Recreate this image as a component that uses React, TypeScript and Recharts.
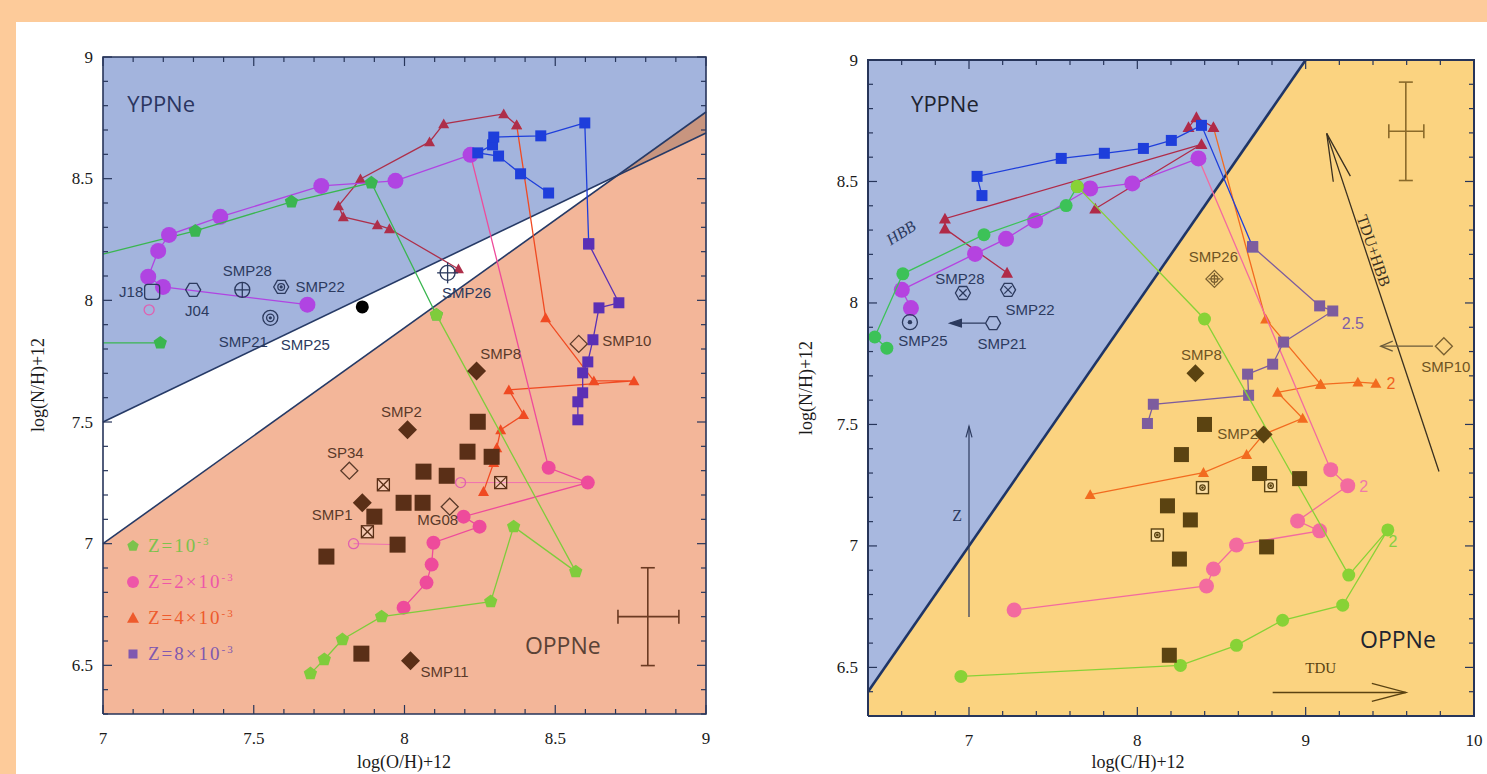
import { ScatterChart, Scatter, XAxis, YAxis } from "recharts";

type Pt = { x: number; y: number; name?: string };
type Note = { x: number; y: number; id: string; text: string };
type Box = { left: number; right: number; top: number; bottom: number };

const PEACH = "#FDCB9A";
const AXIS = "#27355A";
const NAVY = "#2C3A5E";
const SERIF = "'Liberation Serif', 'DejaVu Serif', serif";
const SANS = "'Liberation Sans', Arial, sans-serif";
const TITLE = "'Open Sans', 'Liberation Sans', sans-serif";

// ---------- left panel: log(N/H)+12 vs log(O/H)+12 ----------
const L_YOUNG_ZONE: Pt[] = [{ x: 7, y: 7.5 }, { x: 9, y: 8.688 }, { x: 9, y: 9 }, { x: 7, y: 9 }];
const L_OLD_ZONE: Pt[] = [{ x: 7, y: 6.3 }, { x: 9, y: 6.3 }, { x: 9, y: 8.774 }, { x: 7, y: 7.0 }];
const L_OVERLAP: Pt[] = [{ x: 8.706, y: 8.513 }, { x: 9, y: 8.774 }, { x: 9, y: 8.688 }];
const L_YOUNG_EDGE: Pt[] = [{ x: 7, y: 7.5 }, { x: 9, y: 8.688 }];
const L_OLD_EDGE: Pt[] = [{ x: 7, y: 7.0 }, { x: 9, y: 8.774 }];

const L_GREEN_LEAD: Pt[] = [{ x: 7.0, y: 8.19 }, { x: 7.306, y: 8.285 }];
const L_GREEN_UP: Pt[] = [{ x: 7.306, y: 8.285 }, { x: 7.625, y: 8.405 }, { x: 7.89, y: 8.483 }, { x: 8.106, y: 7.94 }];
const L_GREEN_LOW: Pt[] = [
  { x: 8.106, y: 7.94 }, { x: 8.568, y: 6.885 }, { x: 8.362, y: 7.07 }, { x: 8.286, y: 6.762 },
  { x: 7.924, y: 6.7 }, { x: 7.794, y: 6.606 }, { x: 7.734, y: 6.524 }, { x: 7.688, y: 6.466 },
];
const L_GREEN_SHORT_LEAD: Pt[] = [{ x: 7.0, y: 7.825 }, { x: 7.19, y: 7.825 }];
const L_GREEN_SHORT: Pt[] = [{ x: 7.19, y: 7.825 }];
const L_VIOLET: Pt[] = [
  { x: 7.678, y: 7.982 }, { x: 7.199, y: 8.055 }, { x: 7.15, y: 8.097 }, { x: 7.183, y: 8.203 },
  { x: 7.219, y: 8.269 }, { x: 7.389, y: 8.343 }, { x: 7.724, y: 8.47 }, { x: 7.97, y: 8.491 }, { x: 8.219, y: 8.598 },
];
const L_PINK: Pt[] = [
  { x: 8.219, y: 8.598 }, { x: 8.478, y: 7.312 }, { x: 8.608, y: 7.251 }, { x: 8.196, y: 7.111 },
  { x: 8.249, y: 7.07 }, { x: 8.096, y: 7.004 }, { x: 8.09, y: 6.914 }, { x: 8.073, y: 6.84 }, { x: 7.997, y: 6.737 },
];
const L_DARKRED: Pt[] = [
  { x: 8.179, y: 8.129 }, { x: 7.95, y: 8.294 }, { x: 7.91, y: 8.31 }, { x: 7.797, y: 8.343 }, { x: 7.781, y: 8.388 },
  { x: 7.854, y: 8.499 }, { x: 8.083, y: 8.651 }, { x: 8.13, y: 8.725 }, { x: 8.329, y: 8.766 }, { x: 8.372, y: 8.721 },
];
const L_ORANGE: Pt[] = [
  { x: 8.372, y: 8.721 }, { x: 8.468, y: 7.928 }, { x: 8.628, y: 7.669 }, { x: 8.761, y: 7.669 }, { x: 8.346, y: 7.632 },
  { x: 8.395, y: 7.53 }, { x: 8.319, y: 7.468 }, { x: 8.306, y: 7.394 }, { x: 8.296, y: 7.333 }, { x: 8.262, y: 7.214 },
];
const L_BLUE: Pt[] = [
  { x: 8.478, y: 8.441 }, { x: 8.385, y: 8.52 }, { x: 8.312, y: 8.593 }, { x: 8.243, y: 8.606 }, { x: 8.292, y: 8.639 },
  { x: 8.296, y: 8.671 }, { x: 8.452, y: 8.676 }, { x: 8.598, y: 8.729 }, { x: 8.611, y: 8.232 },
];
const L_PURPLE: Pt[] = [
  { x: 8.611, y: 8.232 }, { x: 8.711, y: 7.99 }, { x: 8.645, y: 7.969 }, { x: 8.625, y: 7.838 }, { x: 8.608, y: 7.747 },
  { x: 8.591, y: 7.702 }, { x: 8.591, y: 7.62 }, { x: 8.575, y: 7.583 }, { x: 8.575, y: 7.509 },
];

const L_BROWN_SQUARES: Pt[] = [
  { x: 8.243, y: 7.501 }, { x: 8.209, y: 7.378 }, { x: 8.289, y: 7.357 }, { x: 8.063, y: 7.296 }, { x: 8.14, y: 7.279 },
  { x: 7.997, y: 7.168 }, { x: 8.06, y: 7.168 }, { x: 7.9, y: 7.111 }, { x: 7.977, y: 6.996 }, { x: 7.741, y: 6.947 },
  { x: 7.857, y: 6.548 },
];
const L_DIAMONDS: Pt[] = [
  { x: 8.239, y: 7.71, name: "SMP8" }, { x: 8.01, y: 7.468, name: "SMP2" },
  { x: 7.86, y: 7.168, name: "SMP1" }, { x: 8.02, y: 6.519, name: "SMP11" },
];
const L_OPEN_DIAMONDS: Pt[] = [
  { x: 7.817, y: 7.3, name: "SP34" }, { x: 8.15, y: 7.152, name: "MG08" }, { x: 8.578, y: 7.821, name: "SMP10" },
];
const L_CROSSED: Pt[] = [{ x: 7.93, y: 7.242 }, { x: 7.877, y: 7.049 }, { x: 8.319, y: 7.251 }];
const L_YOUNG_PNE: Pt[] = [
  { x: 7.163, y: 8.035, name: "J18" }, { x: 7.299, y: 8.043, name: "J04" }, { x: 7.462, y: 8.043, name: "SMP28" },
  { x: 7.591, y: 8.055, name: "SMP22" }, { x: 7.555, y: 7.928, name: "SMP21" }, { x: 8.143, y: 8.113, name: "SMP26" },
];
const L_BLACK: Pt[] = [{ x: 7.86, y: 7.973 }];
const L_OPEN_CIRCLES: Pt[] = [{ x: 8.186, y: 7.251 }, { x: 7.831, y: 7.0 }, { x: 7.153, y: 7.961 }];
const L_LINK_A: Pt[] = [{ x: 8.186, y: 7.251 }, { x: 8.608, y: 7.251 }];
const L_LINK_B: Pt[] = [{ x: 7.831, y: 7.0 }, { x: 7.977, y: 6.996 }];
const L_ERR_V: Pt[] = [{ x: 8.807, y: 6.901 }, { x: 8.807, y: 6.499 }];
const L_ERR_H: Pt[] = [{ x: 8.708, y: 6.7 }, { x: 8.91, y: 6.7 }];
const L_NOTES: Note[] = [
  { id: "young", x: 7.193, y: 8.811, text: "YPPNe" },
  { id: "old", x: 8.525, y: 6.585, text: "OPPNe" },
  { id: "smp25", x: 7.671, y: 7.817, text: "SMP25" },
];

// ---------- right panel: log(N/H)+12 vs log(C/H)+12 ----------
const R_YOUNG_ZONE: Pt[] = [{ x: 6.4, y: 6.4 }, { x: 9, y: 9 }, { x: 6.4, y: 9 }];
const R_OLD_ZONE: Pt[] = [{ x: 6.4, y: 6.3 }, { x: 10, y: 6.3 }, { x: 10, y: 9 }, { x: 9, y: 9 }, { x: 6.4, y: 6.4 }];
const R_EDGE: Pt[] = [{ x: 6.4, y: 6.4 }, { x: 9, y: 9 }];

const R_GREEN_UP: Pt[] = [
  { x: 6.512, y: 7.814 }, { x: 6.44, y: 7.86 }, { x: 6.607, y: 8.12 }, { x: 7.089, y: 8.281 },
  { x: 7.577, y: 8.401 }, { x: 7.643, y: 8.479 },
];
const R_GREEN_LOW: Pt[] = [
  { x: 7.643, y: 8.479 }, { x: 8.399, y: 7.934 }, { x: 9.256, y: 6.88 }, { x: 9.488, y: 7.066 }, { x: 9.22, y: 6.756 },
  { x: 8.863, y: 6.694 }, { x: 8.589, y: 6.591 }, { x: 8.256, y: 6.508 }, { x: 6.952, y: 6.463 },
];
const R_VIOLET: Pt[] = [
  { x: 6.655, y: 7.979 }, { x: 6.601, y: 8.054 }, { x: 7.036, y: 8.202 }, { x: 7.22, y: 8.264 },
  { x: 7.393, y: 8.339 }, { x: 7.72, y: 8.471 }, { x: 7.97, y: 8.492 }, { x: 8.363, y: 8.595 },
];
const R_PINK: Pt[] = [
  { x: 8.363, y: 8.595 }, { x: 9.149, y: 7.314 }, { x: 9.25, y: 7.248 }, { x: 8.952, y: 7.103 }, { x: 9.083, y: 7.062 },
  { x: 8.589, y: 7.004 }, { x: 8.452, y: 6.905 }, { x: 8.411, y: 6.835 }, { x: 7.268, y: 6.736 },
];
const R_DARKRED_A: Pt[] = [
  { x: 7.226, y: 8.124 }, { x: 6.857, y: 8.306 }, { x: 6.857, y: 8.347 }, { x: 8.381, y: 8.653 }, { x: 7.75, y: 8.388 },
];
const R_DARKRED_B: Pt[] = [{ x: 8.304, y: 8.723 }, { x: 8.351, y: 8.764 }, { x: 8.452, y: 8.723 }];
const R_ORANGE_A: Pt[] = [
  { x: 8.452, y: 8.723 }, { x: 8.762, y: 7.934 }, { x: 9.089, y: 7.665 }, { x: 9.31, y: 7.674 }, { x: 9.417, y: 7.669 },
];
const R_ORANGE_B: Pt[] = [
  { x: 7.72, y: 7.211 }, { x: 8.393, y: 7.302 }, { x: 8.649, y: 7.376 }, { x: 8.75, y: 7.459 },
  { x: 8.982, y: 7.525 }, { x: 8.833, y: 7.632 }, { x: 9.089, y: 7.665 },
];
const R_BLUE: Pt[] = [
  { x: 7.077, y: 8.442 }, { x: 7.048, y: 8.521 }, { x: 7.548, y: 8.595 }, { x: 7.804, y: 8.616 },
  { x: 8.036, y: 8.636 }, { x: 8.202, y: 8.669 }, { x: 8.381, y: 8.731 }, { x: 8.685, y: 8.231 },
];
const R_PURPLE: Pt[] = [
  { x: 8.685, y: 8.231 }, { x: 9.083, y: 7.988 }, { x: 9.161, y: 7.967 }, { x: 8.869, y: 7.839 }, { x: 8.804, y: 7.748 },
  { x: 8.655, y: 7.707 }, { x: 8.661, y: 7.62 }, { x: 8.095, y: 7.583 }, { x: 8.06, y: 7.504 },
];
const R_BROWN_SQUARES: Pt[] = [
  { x: 8.399, y: 7.5 }, { x: 8.262, y: 7.376 }, { x: 8.726, y: 7.298 }, { x: 8.964, y: 7.277 }, { x: 8.179, y: 7.165 },
  { x: 8.315, y: 7.107 }, { x: 8.768, y: 6.996 }, { x: 8.25, y: 6.946 }, { x: 8.19, y: 6.55 },
];
const R_DIAMONDS: Pt[] = [{ x: 8.345, y: 7.711, name: "SMP8" }, { x: 8.75, y: 7.459, name: "SMP2" }];
const R_DOTTED: Pt[] = [{ x: 8.387, y: 7.24 }, { x: 8.792, y: 7.248 }, { x: 8.119, y: 7.045 }];
const R_OPEN_DIAMONDS: Pt[] = [{ x: 9.821, y: 7.822, name: "SMP10" }, { x: 8.458, y: 8.099, name: "SMP26" }];
const R_YOUNG_PNE: Pt[] = [
  { x: 6.964, y: 8.041, name: "SMP28" }, { x: 7.232, y: 8.054, name: "SMP22" },
  { x: 6.649, y: 7.921, name: "SMP25" }, { x: 7.143, y: 7.917, name: "SMP21" },
];
const R_Z_ARROW: Pt[] = [{ x: 7.0, y: 6.707 }, { x: 7.0, y: 7.492 }];
const R_TDU_ARROW: Pt[] = [{ x: 8.804, y: 6.397 }, { x: 9.595, y: 6.397 }];
const R_TDUHBB_ARROW: Pt[] = [{ x: 9.792, y: 7.306 }, { x: 9.125, y: 8.698 }];
const R_SMP21_ARROW: Pt[] = [{ x: 7.095, y: 7.917 }, { x: 6.887, y: 7.917 }];
const R_SMP10_ARROW: Pt[] = [{ x: 9.756, y: 7.822 }, { x: 9.446, y: 7.822 }];
const R_ERR_V: Pt[] = [{ x: 9.595, y: 8.909 }, { x: 9.595, y: 8.504 }];
const R_ERR_H: Pt[] = [{ x: 9.494, y: 8.707 }, { x: 9.702, y: 8.707 }];
const R_NOTES: Note[] = [
  { id: "young", x: 6.857, y: 8.822, text: "YPPNe" },
  { id: "old", x: 9.548, y: 6.616, text: "OPPNe" },
  { id: "hbb", x: 6.595, y: 8.289, text: "HBB" },
  { id: "z", x: 6.929, y: 7.124, text: "Z" },
  { id: "tdu", x: 9.089, y: 6.496, text: "TDU" },
  { id: "tduhbb", x: 9.405, y: 8.215, text: "TDU+HBB" },
  { id: "m25", x: 9.28, y: 7.917, text: "2.5" },
  { id: "m2o", x: 9.506, y: 7.669, text: "2" },
  { id: "m2p", x: 9.345, y: 7.244, text: "2" },
  { id: "m2g", x: 9.518, y: 7.017, text: "2" },
];

const LEGEND_ITEMS = [
  { z: "10", color: "#7CC24C", kind: "pentagon" },
  { z: "2×10", color: "#EE56A8", kind: "circle" },
  { z: "4×10", color: "#EE5A2C", kind: "triangle" },
  { z: "8×10", color: "#8058B0", kind: "square" },
];

// ticks
const steps = (a: number, b: number, d: number) => {
  const out: number[] = [];
  const n = Math.round((b - a) / d);
  for (let i = 0; i <= n; i++) out.push(Math.round((a + i * d) * 1000) / 1000);
  return out;
};
const isHalf = (v: number) => Math.abs(v * 2 - Math.round(v * 2)) < 1e-6;
const isWhole = (v: number) => Math.abs(v - Math.round(v)) < 1e-6;

const LEFT_LABELS: Record<string, [number, number]> = {
  J18: [-21, 0], J04: [4, 21], SMP28: [5, -19], SMP22: [39, 0], SMP21: [-27, 24], SMP26: [19, 20],
  SMP8: [24, -17], SMP2: [-6, -18], SP34: [-4, -18], SMP1: [-30, 12], MG08: [-12, 13], SMP11: [34, 11], SMP10: [48, -3],
};
const RIGHT_LABELS: Record<string, [number, number]> = {
  SMP28: [-3, -15], SMP22: [22, 20], SMP25: [13, 18], SMP21: [9, 20], SMP26: [-1, -22],
  SMP8: [6, -19], SMP2: [-26, -1], SMP10: [2, 20],
};
const LEFT_SYMBOLS: Record<string, string> = {
  J18: "osquare", J04: "hex", SMP28: "circbar", SMP22: "hexdot", SMP21: "circc", SMP26: "circplus",
};
const RIGHT_SYMBOLS: Record<string, string> = {
  SMP28: "hexx", SMP22: "hexx", SMP25: "circdot", SMP21: "hex", SMP10: "odiamond", SMP26: "diamondplus",
};

type NoteStyle = { size: number; color: string; font: string; rotate?: number; italic?: boolean };
const LEFT_NOTE_STYLE: Record<string, NoteStyle> = {
  young: { size: 22, color: "#2A3560", font: TITLE },
  old: { size: 23, color: "#5A4236", font: TITLE },
  smp25: { size: 15, color: NAVY, font: SANS },
};
const RIGHT_NOTE_STYLE: Record<string, NoteStyle> = {
  young: { size: 22, color: "#1E2430", font: TITLE },
  old: { size: 23, color: "#1E2430", font: TITLE },
  hbb: { size: 16, color: NAVY, font: SERIF, rotate: -33, italic: true },
  z: { size: 16, color: NAVY, font: SERIF },
  tdu: { size: 15, color: "#5A4212", font: SERIF },
  tduhbb: { size: 16, color: "#3A3020", font: SERIF, rotate: 71 },
  m25: { size: 16, color: "#7E5EA8", font: SANS },
  m2o: { size: 16, color: "#F0621E", font: SANS },
  m2p: { size: 16, color: "#F07AA8", font: SANS },
  m2g: { size: 16, color: "#86CF40", font: SANS },
};

// ---------- drawing helpers ----------
const ngon = (cx: number, cy: number, r: number, n: number, start: number) =>
  Array.from({ length: n }, (_, k) => {
    const a = ((start + (360 / n) * k) * Math.PI) / 180;
    return `${cx + r * Math.cos(a)},${cy + r * Math.sin(a)}`;
  }).join(" ");

function mark(kind: string, cx: number, cy: number, s: number, c: string) {
  const open = { fill: "none", stroke: c, strokeWidth: 1.3 };
  switch (kind) {
    case "circle":
    case "dot":
      return <circle cx={cx} cy={cy} r={s} fill={c} />;
    case "square":
      return <rect x={cx - s} y={cy - s} width={2 * s} height={2 * s} fill={c} />;
    case "triangle":
      return <polygon points={`${cx},${cy - s} ${cx + s},${cy + s * 0.8} ${cx - s},${cy + s * 0.8}`} fill={c} />;
    case "pentagon":
      return <polygon points={ngon(cx, cy, s, 5, -90)} fill={c} />;
    case "diamond":
      return <polygon points={ngon(cx, cy, s, 4, -90)} fill={c} />;
    case "odiamond":
      return <polygon points={ngon(cx, cy, s, 4, -90)} {...open} />;
    case "ocircle":
      return <circle cx={cx} cy={cy} r={s} {...open} />;
    case "osquare":
      return <rect x={cx - s} y={cy - s} width={2 * s} height={2 * s} rx={3} {...open} />;
    case "hex":
      return <polygon points={ngon(cx, cy, s, 6, 0)} {...open} />;
    case "hexdot":
      return (
        <g>
          <polygon points={ngon(cx, cy, s, 6, 0)} {...open} />
          <circle cx={cx} cy={cy} r={s * 0.45} {...open} />
          <circle cx={cx} cy={cy} r={1.6} fill={c} />
        </g>
      );
    case "hexx":
      return (
        <g>
          <polygon points={ngon(cx, cy, s, 6, 0)} {...open} />
          <line x1={cx - s * 0.5} y1={cy - s * 0.5} x2={cx + s * 0.5} y2={cy + s * 0.5} {...open} />
          <line x1={cx - s * 0.5} y1={cy + s * 0.5} x2={cx + s * 0.5} y2={cy - s * 0.5} {...open} />
        </g>
      );
    case "xsquare":
      return (
        <g>
          <rect x={cx - s} y={cy - s} width={2 * s} height={2 * s} fill="rgba(255,255,255,0.25)" stroke={c} strokeWidth={1.3} />
          <line x1={cx - s} y1={cy - s} x2={cx + s} y2={cy + s} {...open} />
          <line x1={cx - s} y1={cy + s} x2={cx + s} y2={cy - s} {...open} />
        </g>
      );
    case "dsquare":
      return (
        <g>
          <rect x={cx - s} y={cy - s} width={2 * s} height={2 * s} fill="rgba(255,255,255,0.3)" stroke={c} strokeWidth={1.4} />
          <circle cx={cx} cy={cy} r={s * 0.45} {...open} />
          <circle cx={cx} cy={cy} r={1.4} fill={c} />
        </g>
      );
    case "circplus":
      return (
        <g>
          <circle cx={cx} cy={cy} r={s} {...open} />
          <line x1={cx - s * 1.4} y1={cy} x2={cx + s * 1.4} y2={cy} {...open} />
          <line x1={cx} y1={cy - s * 1.4} x2={cx} y2={cy + s * 1.4} {...open} />
        </g>
      );
    case "circbar":
      return (
        <g>
          <circle cx={cx} cy={cy} r={s} {...open} />
          <line x1={cx - s} y1={cy} x2={cx + s} y2={cy} {...open} />
          <line x1={cx} y1={cy - s} x2={cx} y2={cy + s} {...open} />
        </g>
      );
    case "circc":
      return (
        <g>
          <circle cx={cx} cy={cy} r={s} {...open} />
          <circle cx={cx} cy={cy} r={s * 0.5} {...open} />
          <circle cx={cx} cy={cy} r={1.6} fill={c} />
        </g>
      );
    case "circdot":
      return (
        <g>
          <circle cx={cx} cy={cy} r={s} {...open} />
          <circle cx={cx} cy={cy} r={2.2} fill={c} />
        </g>
      );
    case "diamondplus":
      return (
        <g>
          <polygon points={ngon(cx, cy, s, 4, -90)} {...open} />
          <circle cx={cx} cy={cy} r={s * 0.4} {...open} />
          <line x1={cx - s * 0.7} y1={cy} x2={cx + s * 0.7} y2={cy} {...open} />
          <line x1={cx} y1={cy - s * 0.7} x2={cx} y2={cy + s * 0.7} {...open} />
        </g>
      );
    default:
      return <g />;
  }
}

const hidden = () => <g />;

function zone(key: string, data: Pt[], fill: string) {
  return <Scatter key={key} data={data} line={{ fill, stroke: "none" }} shape={hidden} isAnimationActive={false} />;
}

function edge(key: string, data: Pt[], stroke: string, width: number) {
  return (
    <Scatter key={key} data={data} line={{ stroke, strokeWidth: width, fill: "none" }} shape={hidden} isAnimationActive={false} />
  );
}

function track(key: string, data: Pt[], color: string, kind: string, size: number) {
  return (
    <Scatter
      key={key}
      data={data}
      fill={color}
      line={{ stroke: color, strokeWidth: 1.3, fill: "none" }}
      lineJointType="linear"
      shape={(p: any) => mark(kind, p.cx, p.cy, size, color)}
      isAnimationActive={false}
    />
  );
}

function marks(
  key: string,
  data: Pt[],
  kind: string | Record<string, string>,
  size: number,
  color: string,
  labels?: Record<string, [number, number]>,
  labelColor?: string
) {
  const shape = (p: any) => {
    const name: string | undefined = p.payload?.name;
    const k = typeof kind === "string" ? kind : kind[name || ""];
    const pos = labels && name ? labels[name] : undefined;
    return (
      <g>
        {mark(k, p.cx, p.cy, size, color)}
        {pos && (
          <text
            x={p.cx + pos[0]}
            y={p.cy + pos[1]}
            textAnchor="middle"
            dominantBaseline="central"
            fontFamily={SANS}
            fontSize={15}
            fill={labelColor}
          >
            {name}
          </text>
        )}
      </g>
    );
  };
  return <Scatter key={key} data={data} shape={shape} isAnimationActive={false} />;
}

function notes(key: string, data: Note[], styles: Record<string, NoteStyle>) {
  const shape = (p: any) => {
    const st = styles[p.payload.id];
    return (
      <text
        x={p.cx}
        y={p.cy}
        textAnchor="middle"
        dominantBaseline="central"
        fontFamily={st.font}
        fontSize={st.size}
        fill={st.color}
        fontStyle={st.italic ? "italic" : undefined}
        transform={st.rotate ? `rotate(${st.rotate} ${p.cx} ${p.cy})` : undefined}
      >
        {p.payload.text}
      </text>
    );
  };
  return <Scatter key={key} data={data} shape={shape} isAnimationActive={false} />;
}

function arrow(key: string, data: Pt[], color: string, head: number, half: number, width: number, filled = false) {
  const draw = (lp: any) => {
    const pts = lp.points as { x: number; y: number }[];
    const a = pts[0];
    const b = pts[pts.length - 1];
    const ang = Math.atan2(b.y - a.y, b.x - a.x);
    const bx = b.x - head * Math.cos(ang);
    const by = b.y - head * Math.sin(ang);
    const w1 = `${bx + half * Math.sin(ang)},${by - half * Math.cos(ang)}`;
    const w2 = `${bx - half * Math.sin(ang)},${by + half * Math.cos(ang)}`;
    return (
      <g>
        <line x1={a.x} y1={a.y} x2={b.x} y2={b.y} stroke={color} strokeWidth={width} />
        <polyline
          points={`${w1} ${b.x},${b.y} ${w2}`}
          fill={filled ? color : "none"}
          stroke={color}
          strokeWidth={width}
        />
      </g>
    );
  };
  return <Scatter key={key} data={data} line={draw} shape={hidden} isAnimationActive={false} />;
}

function errBar(key: string, data: Pt[], color: string, cap: number) {
  const draw = (lp: any) => {
    const [a, b] = lp.points as { x: number; y: number }[];
    const ang = Math.atan2(b.y - a.y, b.x - a.x);
    const px = cap * Math.sin(ang);
    const py = -cap * Math.cos(ang);
    return (
      <g stroke={color} strokeWidth={1.6}>
        <line x1={a.x} y1={a.y} x2={b.x} y2={b.y} />
        <line x1={a.x - px} y1={a.y - py} x2={a.x + px} y2={a.y + py} />
        <line x1={b.x - px} y1={b.y - py} x2={b.x + px} y2={b.y + py} />
      </g>
    );
  };
  return <Scatter key={key} data={data} line={draw} shape={hidden} isAnimationActive={false} />;
}

function xTick(box: Box, major: (v: number) => boolean) {
  return (props: any) => {
    const { x, payload } = props;
    const v = payload.value as number;
    const big = major(v);
    const len = big ? 9 : 5;
    return (
      <g>
        <line x1={x} x2={x} y1={box.bottom} y2={box.bottom - len} stroke={AXIS} strokeWidth={1.2} />
        <line x1={x} x2={x} y1={box.top} y2={box.top + len} stroke={AXIS} strokeWidth={1.2} />
        {big && (
          <text x={x} y={box.bottom + 24} textAnchor="middle" dominantBaseline="central" fontFamily={SERIF} fontSize={17} fill="#1a1a1a">
            {String(v)}
          </text>
        )}
      </g>
    );
  };
}

function yTick(box: Box, major: (v: number) => boolean) {
  return (props: any) => {
    const { y, payload } = props;
    const v = payload.value as number;
    const big = major(v);
    const len = big ? 9 : 5;
    return (
      <g>
        <line x1={box.left} x2={box.left + len} y1={y} y2={y} stroke={AXIS} strokeWidth={1.2} />
        <line x1={box.right} x2={box.right - len} y1={y} y2={y} stroke={AXIS} strokeWidth={1.2} />
        {big && (
          <text x={box.left - 10} y={y} textAnchor="end" dominantBaseline="central" fontFamily={SERIF} fontSize={17} fill="#1a1a1a">
            {String(v)}
          </text>
        )}
      </g>
    );
  };
}

function frame(key: string, x0: number, x1: number, y0: number, y1: number, width: number) {
  const pts: Pt[] = [
    { x: x0, y: y0 }, { x: x1, y: y0 }, { x: x1, y: y1 }, { x: x0, y: y1 }, { x: x0, y: y0 },
  ];
  return edge(key, pts, AXIS, width);
}

const LEFT_BOX: Box = { left: 103, right: 706, top: 57, bottom: 714 };
const RIGHT_BOX: Box = { left: 108, right: 714, top: 60, bottom: 716 };

const axisTitle = (x: number, y: number, text: string, rotate = false) => () => (
  <text
    x={x}
    y={y}
    transform={rotate ? `rotate(-90 ${x} ${y})` : undefined}
    textAnchor="middle"
    dominantBaseline="central"
    fontFamily={SERIF}
    fontSize={18}
    fill="#1a1a1a"
  >
    {text}
  </text>
);

function LeftPanel() {
  return (
    <ScatterChart width={740} height={774} margin={{ top: 57, right: 34, bottom: 0, left: 53 }}>
      <XAxis
        type="number"
        dataKey="x"
        domain={[7, 9]}
        ticks={steps(7, 9, 0.1)}
        interval={0}
        height={60}
        axisLine={false}
        tickLine={false}
        tickSize={0}
        tick={xTick(LEFT_BOX, isHalf)}
        label={{ content: axisTitle(404, 762, "log(O/H)+12") }}
      />
      <YAxis
        type="number"
        dataKey="y"
        domain={[6.3, 9]}
        ticks={steps(6.3, 9, 0.1)}
        interval={0}
        width={50}
        axisLine={false}
        tickLine={false}
        tickSize={0}
        tick={yTick(LEFT_BOX, isHalf)}
        label={{ content: axisTitle(38, 385, "log(N/H)+12", true) }}
      />
      {zone("lz-young", L_YOUNG_ZONE, "#A3B4DD")}
      {zone("lz-old", L_OLD_ZONE, "#F3B699")}
      {zone("lz-overlap", L_OVERLAP, "#C8957F")}
      {edge("le-young", L_YOUNG_EDGE, "#263A66", 1.6)}
      {edge("le-old", L_OLD_EDGE, "#263A66", 1.6)}
      {edge("l-green-lead", L_GREEN_LEAD, "#3AB650", 1.3)}
      {edge("l-green-short-lead", L_GREEN_SHORT_LEAD, "#3AB650", 1.3)}
      {edge("l-link-a", L_LINK_A, "#F070B0", 1)}
      {edge("l-link-b", L_LINK_B, "#F070B0", 1)}
      {track("l-orange", L_ORANGE, "#F04A22", "triangle", 5.5)}
      {track("l-darkred", L_DARKRED, "#AE2F4A", "triangle", 5.5)}
      {track("l-pink", L_PINK, "#EE4B9B", "circle", 7)}
      {track("l-violet", L_VIOLET, "#B044E2", "circle", 8)}
      {track("l-blue", L_BLUE, "#1E3EDB", "square", 5.5)}
      {track("l-purple", L_PURPLE, "#5A30B5", "square", 5.5)}
      {track("l-green-up", L_GREEN_UP, "#3AB650", "pentagon", 7)}
      {track("l-green-short", L_GREEN_SHORT, "#3AB650", "pentagon", 7)}
      {track("l-green-low", L_GREEN_LOW, "#7FCC3C", "pentagon", 7)}
      {marks("l-open-circ", L_OPEN_CIRCLES, "ocircle", 5, "#E060B0")}
      {marks("l-squares", L_BROWN_SQUARES, "square", 8, "#5A2F17")}
      {marks("l-crossed", L_CROSSED, "xsquare", 6, "#5A2F17")}
      {marks("l-diamonds", L_DIAMONDS, "diamond", 9.5, "#5A2F17", LEFT_LABELS, "#5A3A2A")}
      {marks("l-odiamonds", L_OPEN_DIAMONDS, "odiamond", 8.5, "#5A3A2A", LEFT_LABELS, "#5A3A2A")}
      {marks("l-young", L_YOUNG_PNE, LEFT_SYMBOLS, 7.5, NAVY, LEFT_LABELS, NAVY)}
      {marks("l-black", L_BLACK, "dot", 6.5, "#000")}
      {notes("l-notes", L_NOTES, LEFT_NOTE_STYLE)}
      {errBar("l-err-v", L_ERR_V, "#6B3A22", 7)}
      {errBar("l-err-h", L_ERR_H, "#6B3A22", 7)}
      {frame("l-frame", 7, 9, 6.3, 9, 1.6)}
    </ScatterChart>
  );
}

function RightPanel() {
  return (
    <ScatterChart width={727} height={774} margin={{ top: 60, right: 13, bottom: 0, left: 58 }}>
      <XAxis
        type="number"
        dataKey="x"
        domain={[6.4, 10]}
        ticks={steps(6.4, 10, 0.2)}
        interval={0}
        height={58}
        axisLine={false}
        tickLine={false}
        tickSize={0}
        tick={xTick(RIGHT_BOX, isWhole)}
        label={{ content: axisTitle(378, 762, "log(C/H)+12") }}
      />
      <YAxis
        type="number"
        dataKey="y"
        domain={[6.3, 9]}
        ticks={steps(6.3, 9, 0.1)}
        interval={0}
        width={50}
        axisLine={false}
        tickLine={false}
        tickSize={0}
        tick={yTick(RIGHT_BOX, isHalf)}
        label={{ content: axisTitle(46, 388, "log(N/H)+12", true) }}
      />
      {zone("rz-old", R_OLD_ZONE, "#FBD380")}
      {zone("rz-young", R_YOUNG_ZONE, "#A8B8DF")}
      {edge("re", R_EDGE, "#1F3566", 2.6)}
      {track("r-orange-a", R_ORANGE_A, "#F26B1F", "triangle", 5.5)}
      {track("r-orange-b", R_ORANGE_B, "#F26B1F", "triangle", 5.5)}
      {track("r-darkred-a", R_DARKRED_A, "#B02A48", "triangle", 6)}
      {track("r-darkred-b", R_DARKRED_B, "#B02A48", "triangle", 6)}
      {track("r-pink", R_PINK, "#F36B9F", "circle", 7.5)}
      {track("r-violet", R_VIOLET, "#B543E0", "circle", 8)}
      {track("r-blue", R_BLUE, "#1E3EDB", "square", 5.5)}
      {track("r-purple", R_PURPLE, "#7D5C9E", "square", 5.5)}
      {track("r-green-up", R_GREEN_UP, "#3CC258", "circle", 6.5)}
      {track("r-green-low", R_GREEN_LOW, "#88D236", "circle", 6.5)}
      {marks("r-squares", R_BROWN_SQUARES, "square", 7.5, "#5B4311")}
      {marks("r-dotted", R_DOTTED, "dsquare", 6, "#5B4311")}
      {marks("r-diamonds", R_DIAMONDS, "diamond", 9, "#5B4311", RIGHT_LABELS, "#6E5424")}
      {marks("r-odiamonds", R_OPEN_DIAMONDS, RIGHT_SYMBOLS, 8.5, "#7A6030", RIGHT_LABELS, "#6E5424")}
      {marks("r-young", R_YOUNG_PNE, RIGHT_SYMBOLS, 7.5, NAVY, RIGHT_LABELS, NAVY)}
      {arrow("r-z", R_Z_ARROW, NAVY, 11, 3, 1.2)}
      {arrow("r-tdu", R_TDU_ARROW, "#5A4212", 34, 9, 1.4)}
      {arrow("r-tduhbb", R_TDUHBB_ARROW, "#3A3020", 48, 9, 1.3)}
      {arrow("r-smp21", R_SMP21_ARROW, NAVY, 12, 4, 1.4, true)}
      {arrow("r-smp10", R_SMP10_ARROW, "#6A5A3A", 12, 5, 1.3)}
      {notes("r-notes", R_NOTES, RIGHT_NOTE_STYLE)}
      {errBar("r-err-v", R_ERR_V, "#8A6A2A", 7)}
      {errBar("r-err-h", R_ERR_H, "#8A6A2A", 7)}
      {frame("r-frame", 6.4, 10, 6.3, 9, 2)}
    </ScatterChart>
  );
}

function ModelLegend() {
  return (
    <div style={{ position: "absolute", left: 124, top: 528 }}>
      {LEGEND_ITEMS.map((it) => (
        <div key={it.z} style={{ height: 36, display: "flex", alignItems: "center" }}>
          <svg width={18} height={18} style={{ marginRight: 6 }}>
            {mark(it.kind, 9, 9, it.kind === "square" ? 4.5 : 6, it.color)}
          </svg>
          <span style={{ fontFamily: SERIF, fontSize: 19, letterSpacing: 2, color: it.color, lineHeight: 1 }}>
            Z={it.z}
            <sup style={{ fontSize: 11 }}>-3</sup>
          </span>
        </div>
      ))}
    </div>
  );
}

export default function App() {
  return (
    <div style={{ position: "absolute", left: 0, top: 0, width: 1487, height: 774, background: PEACH, overflow: "hidden" }}>
      <div style={{ position: "absolute", left: 16, top: 22, width: 1471, height: 752, background: "#fff" }} />
      <div style={{ position: "absolute", left: 0, top: 0 }}>
        <LeftPanel />
      </div>
      <div style={{ position: "absolute", left: 760, top: 0 }}>
        <RightPanel />
      </div>
      <ModelLegend />
    </div>
  );
}
